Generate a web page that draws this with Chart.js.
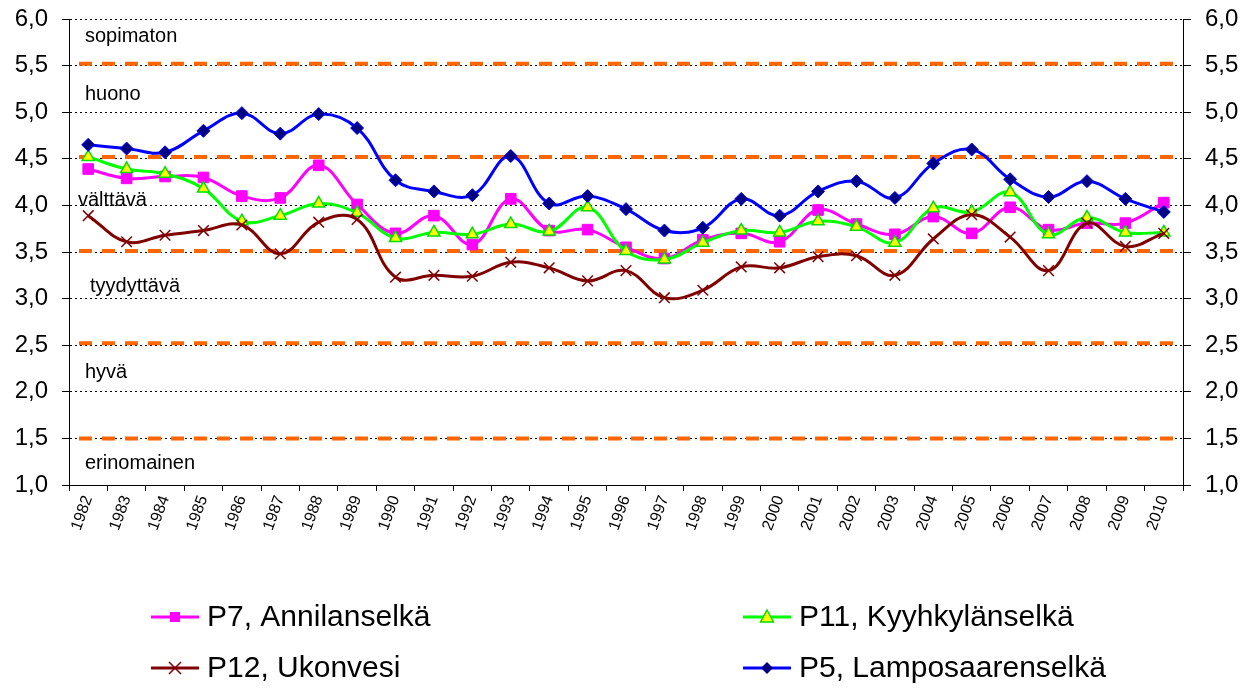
<!DOCTYPE html>
<html>
<head>
<meta charset="utf-8">
<script src="https://cdn.jsdelivr.net/npm/chart.js@4"></script>
<style>
  body { margin: 0; background: #fff; }
  canvas { display: block; }
</style>
</head>
<body>
<canvas id="chart" width="1253" height="688"></canvas>
<script>
// vuodet
const years = ['1982', '1983', '1984', '1985', '1986', '1987', '1988', '1989', '1990', '1991',
  '1992', '1993', '1994', '1995', '1996', '1997', '1998', '1999', '2000', '2001',
  '2002', '2003', '2004', '2005', '2006', '2007', '2008', '2009', '2010'];

// havaintopaikat
const p7 = [4.39, 4.29, 4.31, 4.30, 4.10, 4.08, 4.43, 4.01, 3.70, 3.89,
  3.58, 4.07, 3.73, 3.74, 3.55, 3.43, 3.63, 3.70, 3.61, 3.95,
  3.80, 3.69, 3.88, 3.70, 3.98, 3.74, 3.81, 3.81, 4.03];
const p11 = [4.52, 4.39, 4.34, 4.18, 3.83, 3.89, 4.02, 3.92, 3.65, 3.71,
  3.69, 3.80, 3.72, 3.98, 3.51, 3.42, 3.60, 3.73, 3.71, 3.83,
  3.77, 3.60, 3.97, 3.93, 4.14, 3.69, 3.87, 3.71, 3.71];
const p12 = [3.89, 3.61, 3.68, 3.73, 3.79, 3.48, 3.82, 3.85, 3.23, 3.25,
  3.24, 3.39, 3.33, 3.19, 3.30, 3.01, 3.09, 3.34, 3.33, 3.45,
  3.46, 3.25, 3.64, 3.90, 3.66, 3.30, 3.81, 3.56, 3.70];
const p5 = [4.65, 4.61, 4.57, 4.80, 4.99, 4.77, 4.98, 4.83, 4.27, 4.15,
  4.11, 4.53, 4.02, 4.10, 3.96, 3.73, 3.76, 4.07, 3.89, 4.15,
  4.26, 4.08, 4.45, 4.60, 4.28, 4.09, 4.26, 4.07, 3.93];

// luokkarajat ja luokkien nimet
const limits = [5.52, 4.52, 3.51, 2.52, 1.5];
const classes = ['sopimaton', 'huono', 'välttävä', 'tyydyttävä', 'hyvä', 'erinomainen'];
const classLevel = [5.75, 5.13, 3.99, 3.07, 2.15, 1.17];

const yTicks = ['1,0', '1,5', '2,0', '2,5', '3,0', '3,5', '4,0', '4,5', '5,0', '5,5', '6,0'];

const FONT = '"Liberation Sans", Arial, sans-serif';

// oranssit katkoviivat + luokkien nimet
const guides = {
  id: 'guides',
  beforeDatasetsDraw(chart) {
    const { ctx, chartArea, scales: { y } } = chart;
    ctx.save();
    ctx.strokeStyle = '#ff6600';
    ctx.lineWidth = 4;
    ctx.setLineDash([13, 10]);
    limits.forEach(v => {
      const py = y.getPixelForValue(v);
      ctx.beginPath();
      ctx.moveTo(chartArea.left + 10, py);
      ctx.lineTo(chartArea.right - 7, py);
      ctx.stroke();
    });
    ctx.setLineDash([]);
    ctx.fillStyle = '#000';
    ctx.font = '20px ' + FONT;
    ctx.textBaseline = 'alphabetic';
    const dx = [16, 16, 9, 21, 16, 16];
    classes.forEach((t, i) => {
      ctx.fillText(t, chartArea.left + dx[i], y.getPixelForValue(classLevel[i]));
    });
    ctx.restore();
  }
};

// selite kahdessa sarakkeessa
function marker(ctx, style, x, y) {
  ctx.beginPath();
  if (style === 'rect') {
    ctx.rect(x - 5, y - 5, 10, 10);
    ctx.fill();
  } else if (style === 'triangle') {
    ctx.moveTo(x, y - 7);
    ctx.lineTo(x + 6.5, y + 5);
    ctx.lineTo(x - 6.5, y + 5);
    ctx.closePath();
    ctx.fill();
    ctx.stroke();
  } else if (style === 'crossRot') {
    ctx.moveTo(x - 6, y - 6); ctx.lineTo(x + 6, y + 6);
    ctx.moveTo(x + 6, y - 6); ctx.lineTo(x - 6, y + 6);
    ctx.stroke();
  } else {
    ctx.moveTo(x, y - 6); ctx.lineTo(x + 6, y); ctx.lineTo(x, y + 6); ctx.lineTo(x - 6, y);
    ctx.closePath();
    ctx.fill();
  }
}

const legendBox = {
  id: 'legendBox',
  afterDraw(chart) {
    const { ctx } = chart;
    const cols = [151, 743];
    const rows = [617, 668];
    chart.data.datasets.forEach((ds, i) => {
      const x = cols[i % 2];
      const y = rows[Math.floor(i / 2)];
      ctx.save();
      ctx.strokeStyle = ds.borderColor;
      ctx.lineWidth = 3;
      ctx.beginPath();
      ctx.moveTo(x, y);
      ctx.lineTo(x + 48, y);
      ctx.stroke();
      ctx.fillStyle = ds.pointBackgroundColor;
      ctx.strokeStyle = ds.pointBorderColor;
      ctx.lineWidth = 1.5;
      marker(ctx, ds.pointStyle, x + 24, y);
      ctx.fillStyle = '#000';
      ctx.font = '30px ' + FONT;
      ctx.textBaseline = 'middle';
      ctx.fillText(ds.label, x + 56, y + 1);
      ctx.restore();
    });
  }
};

// pystyakselien oma reunus pois, jotta piirtoalue alkaa oikeasta kohdasta
function fitY(scale, w) {
  scale.width = w;
  scale.paddingTop = 0;
  scale.paddingBottom = 0;
}

const ctx = document.getElementById('chart').getContext('2d');
new Chart(ctx, {
  type: 'line',
  data: {
    labels: years,
    datasets: [{
      label: 'P7, Annilanselkä',
      data: p7,
      borderColor: '#ff00ff',
      borderWidth: 3,
      pointStyle: 'rect',
      pointRadius: 7.5,
      pointBackgroundColor: '#ff00ff',
      pointBorderColor: '#ff00ff',
      pointBorderWidth: 1,
      order: 3
    }, {
      label: 'P11, Kyyhkylänselkä',
      data: p11,
      borderColor: '#00ff00',
      borderWidth: 3,
      pointStyle: 'triangle',
      pointRadius: 7,
      pointBackgroundColor: '#ffff00',
      pointBorderColor: '#00dd00',
      pointBorderWidth: 1.5,
      order: 2
    }, {
      label: 'P12, Ukonvesi',
      data: p12,
      borderColor: '#800000',
      borderWidth: 3,
      pointStyle: 'crossRot',
      pointRadius: 7.5,
      pointBackgroundColor: '#800000',
      pointBorderColor: '#800000',
      pointBorderWidth: 1.5,
      order: 1
    }, {
      label: 'P5, Lamposaarenselkä',
      data: p5,
      borderColor: '#0000ff',
      borderWidth: 3,
      pointStyle: 'rectRot',
      pointRadius: 6.5,
      pointBackgroundColor: '#000080',
      pointBorderColor: '#0000ff',
      pointBorderWidth: 1,
      order: 0
    }]
  },
  options: {
    responsive: false,
    animation: false,
    layout: { padding: { top: 19, right: 0, left: 0, bottom: 0 } },
    plugins: {
      legend: { display: false },
      tooltip: { enabled: false }
    },
    elements: { line: { tension: 0.4 } },
    scales: {
      x: {
        offset: true,
        grid: {
          offset: true,
          drawOnChartArea: false,
          tickLength: 6,
          color: '#000',
          tickColor: '#000'
        },
        border: { color: '#000', width: 1 },
        ticks: {
          autoSkip: false,
          minRotation: 70,
          maxRotation: 70,
          padding: 2,
          color: '#000',
          font: { family: FONT, size: 16 }
        },
        afterFit(scale) {
          scale.height = 688 - 485;
          scale.paddingLeft = 0;
          scale.paddingRight = 0;
        }
      },
      y: {
        position: 'left',
        min: 1,
        max: 6,
        ticks: {
          stepSize: 0.5,
          padding: 14,
          color: '#000',
          font: { family: FONT, size: 24 },
          callback: (v, i) => yTicks[i]
        },
        grid: {
          color: '#000',
          lineWidth: 1,
          tickLength: 7,
          tickColor: '#000',
          tickBorderDash: []
        },
        border: { color: '#000', width: 1, dash: [2, 3] },
        afterFit(scale) { fitY(scale, 69); }
      },
      y2: {
        position: 'right',
        min: 1,
        max: 6,
        ticks: {
          stepSize: 0.5,
          padding: 14,
          color: '#000',
          font: { family: FONT, size: 24 },
          callback: (v, i) => yTicks[i]
        },
        grid: {
          drawOnChartArea: false,
          tickLength: 8,
          color: '#000',
          tickColor: '#000'
        },
        border: { color: '#000', width: 1 },
        afterFit(scale) { fitY(scale, 70); }
      }
    }
  },
  plugins: [guides, legendBox]
});
</script>
</body>
</html>
